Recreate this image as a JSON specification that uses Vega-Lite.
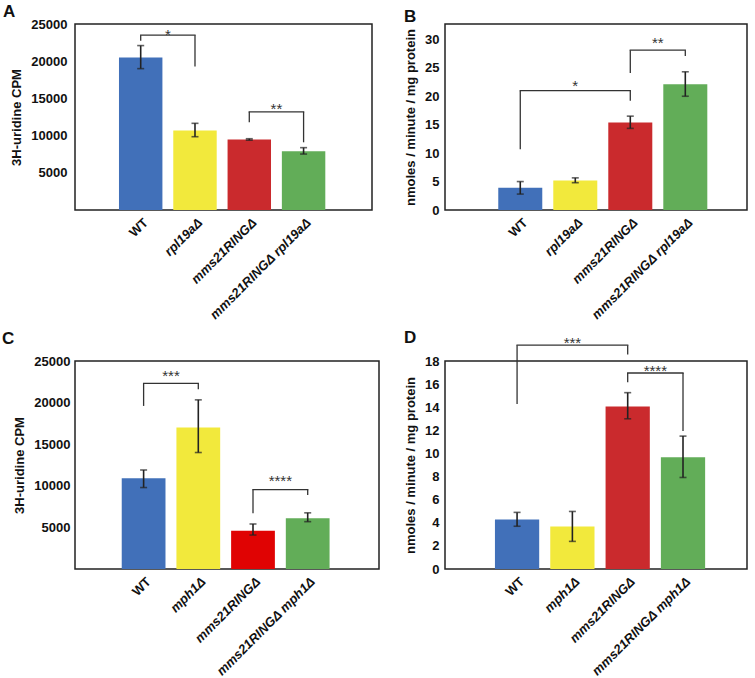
{
  "$schema": "https://vega.github.io/schema/vega-lite/v6.json",
  "padding": {"left": 1, "top": 2, "right": 0, "bottom": 0},
  "bounds": "flush",
  "columns": 2,
  "spacing": {"row": 151, "column": 66},
  "resolve": {"scale": {"color": "independent"}},
  "datasets": {
    "A": [
      {"g": "WT", "v": 20500, "lo": 19000, "hi": 22100},
      {"g": "rpl19aΔ", "v": 10700, "lo": 9850, "hi": 11650},
      {"g": "mms21RINGΔ", "v": 9480, "lo": 9380, "hi": 9580},
      {"g": "mms21RINGΔ rpl19aΔ", "v": 7900, "lo": 7520, "hi": 8380}
    ],
    "Abr": [
      {"a": "WT", "b": "rpl19aΔ", "top": 23500, "ya": 22750, "yb": 19300, "s": "*", "sy": 24050},
      {"a": "mms21RINGΔ", "b": "mms21RINGΔ rpl19aΔ", "top": 13200, "ya": 11800, "yb": 9100, "s": "**", "sy": 14100}
    ],
    "B": [
      {"g": "WT", "v": 3.9, "lo": 2.8, "hi": 5.0},
      {"g": "rpl19aΔ", "v": 5.2, "lo": 4.8, "hi": 5.65},
      {"g": "mms21RINGΔ", "v": 15.4, "lo": 14.35, "hi": 16.5},
      {"g": "mms21RINGΔ rpl19aΔ", "v": 22.1, "lo": 20.0, "hi": 24.3}
    ],
    "Bbr": [
      {"a": "WT", "b": "mms21RINGΔ", "m": "rpl19aΔ", "top": 20.97, "ya": 10.7, "yb": 19.2, "s": "*", "sy": 22.55},
      {"a": "mms21RINGΔ", "b": "mms21RINGΔ rpl19aΔ", "top": 28.1, "ya": 24.1, "yb": 27.07, "s": "**", "sy": 30.05}
    ],
    "C": [
      {"g": "WT", "v": 10920, "lo": 9790, "hi": 11900},
      {"g": "mph1Δ", "v": 17000, "lo": 14000, "hi": 20330},
      {"g": "mms21RINGΔ", "v": 4600, "lo": 4080, "hi": 5410},
      {"g": "mms21RINGΔ mph1Δ", "v": 6090, "lo": 5690, "hi": 6750}
    ],
    "Cbr": [
      {"a": "WT", "b": "mph1Δ", "top": 22300, "ya": 19600, "yb": 21600, "s": "***", "sy": 23700},
      {"a": "mms21RINGΔ", "b": "mms21RINGΔ mph1Δ", "top": 9550, "ya": 6700, "yb": 8900, "s": "****", "sy": 11000}
    ],
    "D": [
      {"g": "WT", "v": 4.28, "lo": 3.7, "hi": 4.9},
      {"g": "mph1Δ", "v": 3.67, "lo": 2.39, "hi": 4.98},
      {"g": "mms21RINGΔ", "v": 14.07, "lo": 13.0, "hi": 15.26},
      {"g": "mms21RINGΔ mph1Δ", "v": 9.67, "lo": 7.92, "hi": 11.5}
    ],
    "Dbr": [
      {"a": "WT", "b": "mms21RINGΔ", "m": "mph1Δ", "top": 19.37, "ya": 14.27, "yb": 18.56, "s": "***", "sy": 19.87},
      {"a": "mms21RINGΔ", "b": "mms21RINGΔ mph1Δ", "top": 16.96, "ya": 16.17, "yb": 11.94, "s": "****", "sy": 17.48}
    ]
  },
  "concat": [
    {
      "width": 297, "height": 186,
      "title": {"text": "A", "anchor": "start", "frame": "group", "fontSize": 17, "fontWeight": "bold", "dx": -72, "dy": 23, "offset": 7, "baseline": "alphabetic", "color": "#111"},
      "layer": [
        {"data": {"name": "A"}, "mark": {"type": "bar"},
         "encoding": {
           "x": {"field": "g", "type": "nominal", "sort": null,
                 "scale": {"domain": ["WT", "rpl19aΔ", "mms21RINGΔ", "mms21RINGΔ rpl19aΔ"], "paddingInner": 0.2, "paddingOuter": 0.835, "align": 0.485},
                 "axis": {"title": null, "labelAngle": -45, "labelFontSize": 13, "labelPadding": 6, "labelOffset": 1, "labelLimit": 300,
                          "labelFontStyle": {"condition": {"test": "datum.value == 'WT'", "value": "normal"}, "value": "italic"}}},
           "y": {"field": "v", "type": "quantitative", "scale": {"domain": [0, 25000], "nice": false},
                 "axis": {"title": "3H-uridine CPM", "values": [5000, 10000, 15000, 20000, 25000], "format": "d", "labelPadding": 8, "labelOverlap": false}},
           "color": {"field": "g", "type": "nominal", "legend": null,
                     "scale": {"domain": ["WT", "rpl19aΔ", "mms21RINGΔ", "mms21RINGΔ rpl19aΔ"], "range": ["#4170B9", "#F2E93C", "#CA2A2D", "#62AD58"]}}
         }},
        {"data": {"name": "A"}, "mark": {"type": "rule", "color": "#222", "strokeWidth": 1.6},
         "encoding": {"x": {"field": "g", "type": "nominal"}, "y": {"field": "lo", "type": "quantitative"}, "y2": {"field": "hi"}}},
        {"data": {"name": "A"}, "mark": {"type": "tick", "orient": "horizontal", "size": 7, "thickness": 1.6, "color": "#222"},
         "encoding": {"x": {"field": "g", "type": "nominal"}, "y": {"field": "lo", "type": "quantitative"}}},
        {"data": {"name": "A"}, "mark": {"type": "tick", "orient": "horizontal", "size": 7, "thickness": 1.6, "color": "#222"},
         "encoding": {"x": {"field": "g", "type": "nominal"}, "y": {"field": "hi", "type": "quantitative"}}},
        {"data": {"name": "Abr"}, "mark": {"type": "rule", "color": "#333", "strokeWidth": 1.3, "strokeCap": "square"},
         "encoding": {"x": {"field": "a", "type": "nominal"}, "x2": {"field": "b"}, "y": {"field": "top", "type": "quantitative"}}},
        {"data": {"name": "Abr"}, "mark": {"type": "rule", "color": "#333", "strokeWidth": 1.3},
         "encoding": {"x": {"field": "a", "type": "nominal"}, "y": {"field": "top", "type": "quantitative"}, "y2": {"field": "ya"}}},
        {"data": {"name": "Abr"}, "mark": {"type": "rule", "color": "#333", "strokeWidth": 1.3},
         "encoding": {"x": {"field": "b", "type": "nominal"}, "y": {"field": "top", "type": "quantitative"}, "y2": {"field": "yb"}}},
        {"data": {"name": "Abr"}, "mark": {"type": "text", "fontSize": 15, "color": "#333", "baseline": "middle", "dy": 4},
         "encoding": {"x": {"field": "a", "type": "nominal", "bandPosition": 1.125}, "y": {"field": "sy", "type": "quantitative"}, "text": {"field": "s"}}}
      ]
    },
    {
      "width": 302, "height": 186,
      "title": {"text": "B", "anchor": "start", "frame": "group", "fontSize": 17, "fontWeight": "bold", "dx": -41, "dy": 22, "offset": 7, "baseline": "alphabetic", "color": "#111"},
      "layer": [
        {"data": {"name": "B"}, "mark": {"type": "bar"},
         "encoding": {
           "x": {"field": "g", "type": "nominal", "sort": null,
                 "scale": {"domain": ["WT", "rpl19aΔ", "mms21RINGΔ", "mms21RINGΔ rpl19aΔ"], "paddingInner": 0.2, "paddingOuter": 0.845, "align": 0.573},
                 "axis": {"title": null, "labelAngle": -45, "labelFontSize": 13, "labelPadding": 6, "labelOffset": 1, "labelLimit": 300,
                          "labelFontStyle": {"condition": {"test": "datum.value == 'WT'", "value": "normal"}, "value": "italic"}}},
           "y": {"field": "v", "type": "quantitative", "scale": {"domain": [0, 32.7], "nice": false},
                 "axis": {"title": "nmoles / minute / mg protein", "values": [0, 5, 10, 15, 20, 25, 30], "format": "d", "labelOverlap": false}},
           "color": {"field": "g", "type": "nominal", "legend": null,
                     "scale": {"domain": ["WT", "rpl19aΔ", "mms21RINGΔ", "mms21RINGΔ rpl19aΔ"], "range": ["#4170B9", "#F2E93C", "#CA2A2D", "#62AD58"]}}
         }},
        {"data": {"name": "B"}, "mark": {"type": "rule", "color": "#222", "strokeWidth": 1.6},
         "encoding": {"x": {"field": "g", "type": "nominal"}, "y": {"field": "lo", "type": "quantitative"}, "y2": {"field": "hi"}}},
        {"data": {"name": "B"}, "mark": {"type": "tick", "orient": "horizontal", "size": 7, "thickness": 1.6, "color": "#222"},
         "encoding": {"x": {"field": "g", "type": "nominal"}, "y": {"field": "lo", "type": "quantitative"}}},
        {"data": {"name": "B"}, "mark": {"type": "tick", "orient": "horizontal", "size": 7, "thickness": 1.6, "color": "#222"},
         "encoding": {"x": {"field": "g", "type": "nominal"}, "y": {"field": "hi", "type": "quantitative"}}},
        {"data": {"name": "Bbr"}, "mark": {"type": "rule", "color": "#333", "strokeWidth": 1.3, "strokeCap": "square"},
         "encoding": {"x": {"field": "a", "type": "nominal"}, "x2": {"field": "b"}, "y": {"field": "top", "type": "quantitative"}}},
        {"data": {"name": "Bbr"}, "mark": {"type": "rule", "color": "#333", "strokeWidth": 1.3},
         "encoding": {"x": {"field": "a", "type": "nominal"}, "y": {"field": "top", "type": "quantitative"}, "y2": {"field": "ya"}}},
        {"data": {"name": "Bbr"}, "mark": {"type": "rule", "color": "#333", "strokeWidth": 1.3},
         "encoding": {"x": {"field": "b", "type": "nominal"}, "y": {"field": "top", "type": "quantitative"}, "y2": {"field": "yb"}}},
        {"data": {"name": "Bbr"}, "transform": [{"filter": "!datum.m"}], "mark": {"type": "text", "fontSize": 15, "color": "#333", "baseline": "middle", "dy": 4},
         "encoding": {"x": {"field": "a", "type": "nominal", "bandPosition": 1.125}, "y": {"field": "sy", "type": "quantitative"}, "text": {"field": "s"}}},
        {"data": {"name": "Bbr"}, "transform": [{"filter": "datum.m"}], "mark": {"type": "text", "fontSize": 15, "color": "#333", "baseline": "middle", "dy": 4},
         "encoding": {"x": {"field": "m", "type": "nominal"}, "y": {"field": "sy", "type": "quantitative"}, "text": {"field": "s"}}}
      ]
    },
    {
      "width": 304, "height": 208,
      "title": {"text": "C", "anchor": "start", "frame": "group", "fontSize": 17, "fontWeight": "bold", "dx": -73, "dy": 20, "offset": 14, "baseline": "alphabetic", "color": "#111"},
      "layer": [
        {"data": {"name": "C"}, "mark": {"type": "bar"},
         "encoding": {
           "x": {"field": "g", "type": "nominal", "sort": null,
                 "scale": {"domain": ["WT", "mph1Δ", "mms21RINGΔ", "mms21RINGΔ mph1Δ"], "paddingInner": 0.2, "paddingOuter": 0.879, "align": 0.486},
                 "axis": {"title": null, "labelAngle": -45, "labelFontSize": 13, "labelPadding": 6, "labelOffset": 1, "labelLimit": 300,
                          "labelFontStyle": {"condition": {"test": "datum.value == 'WT'", "value": "normal"}, "value": "italic"}}},
           "y": {"field": "v", "type": "quantitative", "scale": {"domain": [0, 25000], "nice": false},
                 "axis": {"title": "3H-uridine CPM", "values": [5000, 10000, 15000, 20000, 25000], "format": "d", "labelPadding": 5, "labelOverlap": false}},
           "color": {"field": "g", "type": "nominal", "legend": null,
                     "scale": {"domain": ["WT", "mph1Δ", "mms21RINGΔ", "mms21RINGΔ mph1Δ"], "range": ["#4170B9", "#F2E93C", "#E00303", "#62AD58"]}}
         }},
        {"data": {"name": "C"}, "mark": {"type": "rule", "color": "#222", "strokeWidth": 1.6},
         "encoding": {"x": {"field": "g", "type": "nominal"}, "y": {"field": "lo", "type": "quantitative"}, "y2": {"field": "hi"}}},
        {"data": {"name": "C"}, "mark": {"type": "tick", "orient": "horizontal", "size": 7, "thickness": 1.6, "color": "#222"},
         "encoding": {"x": {"field": "g", "type": "nominal"}, "y": {"field": "lo", "type": "quantitative"}}},
        {"data": {"name": "C"}, "mark": {"type": "tick", "orient": "horizontal", "size": 7, "thickness": 1.6, "color": "#222"},
         "encoding": {"x": {"field": "g", "type": "nominal"}, "y": {"field": "hi", "type": "quantitative"}}},
        {"data": {"name": "Cbr"}, "mark": {"type": "rule", "color": "#333", "strokeWidth": 1.3, "strokeCap": "square"},
         "encoding": {"x": {"field": "a", "type": "nominal"}, "x2": {"field": "b"}, "y": {"field": "top", "type": "quantitative"}}},
        {"data": {"name": "Cbr"}, "mark": {"type": "rule", "color": "#333", "strokeWidth": 1.3},
         "encoding": {"x": {"field": "a", "type": "nominal"}, "y": {"field": "top", "type": "quantitative"}, "y2": {"field": "ya"}}},
        {"data": {"name": "Cbr"}, "mark": {"type": "rule", "color": "#333", "strokeWidth": 1.3},
         "encoding": {"x": {"field": "b", "type": "nominal"}, "y": {"field": "top", "type": "quantitative"}, "y2": {"field": "yb"}}},
        {"data": {"name": "Cbr"}, "mark": {"type": "text", "fontSize": 15, "color": "#333", "baseline": "middle", "dy": 4},
         "encoding": {"x": {"field": "a", "type": "nominal", "bandPosition": 1.125}, "y": {"field": "sy", "type": "quantitative"}, "text": {"field": "s"}}}
      ]
    },
    {
      "width": 302, "height": 208,
      "title": {"text": "D", "anchor": "start", "frame": "group", "fontSize": 17, "fontWeight": "bold", "dx": -41, "offset": 15, "dy": 39, "baseline": "alphabetic", "color": "#111"},
      "layer": [
        {"data": {"name": "D"}, "mark": {"type": "bar"},
         "encoding": {
           "x": {"field": "g", "type": "nominal", "sort": null,
                 "scale": {"domain": ["WT", "mph1Δ", "mms21RINGΔ", "mms21RINGΔ mph1Δ"], "paddingInner": 0.2, "paddingOuter": 0.83, "align": 0.544},
                 "axis": {"title": null, "labelAngle": -45, "labelFontSize": 13, "labelPadding": 6, "labelOffset": 1, "labelLimit": 300,
                          "labelFontStyle": {"condition": {"test": "datum.value == 'WT'", "value": "normal"}, "value": "italic"}}},
           "y": {"field": "v", "type": "quantitative", "scale": {"domain": [0, 18], "nice": false},
                 "axis": {"title": "nmoles / minute / mg protein", "values": [0, 2, 4, 6, 8, 10, 12, 14, 16, 18], "format": "d", "labelOverlap": false}},
           "color": {"field": "g", "type": "nominal", "legend": null,
                     "scale": {"domain": ["WT", "mph1Δ", "mms21RINGΔ", "mms21RINGΔ mph1Δ"], "range": ["#4170B9", "#F2E93C", "#CA2A2D", "#62AD58"]}}
         }},
        {"data": {"name": "D"}, "mark": {"type": "rule", "color": "#222", "strokeWidth": 1.6},
         "encoding": {"x": {"field": "g", "type": "nominal"}, "y": {"field": "lo", "type": "quantitative"}, "y2": {"field": "hi"}}},
        {"data": {"name": "D"}, "mark": {"type": "tick", "orient": "horizontal", "size": 7, "thickness": 1.6, "color": "#222"},
         "encoding": {"x": {"field": "g", "type": "nominal"}, "y": {"field": "lo", "type": "quantitative"}}},
        {"data": {"name": "D"}, "mark": {"type": "tick", "orient": "horizontal", "size": 7, "thickness": 1.6, "color": "#222"},
         "encoding": {"x": {"field": "g", "type": "nominal"}, "y": {"field": "hi", "type": "quantitative"}}},
        {"data": {"name": "Dbr"}, "mark": {"type": "rule", "color": "#333", "strokeWidth": 1.3, "strokeCap": "square"},
         "encoding": {"x": {"field": "a", "type": "nominal"}, "x2": {"field": "b"}, "y": {"field": "top", "type": "quantitative"}}},
        {"data": {"name": "Dbr"}, "mark": {"type": "rule", "color": "#333", "strokeWidth": 1.3},
         "encoding": {"x": {"field": "a", "type": "nominal"}, "y": {"field": "top", "type": "quantitative"}, "y2": {"field": "ya"}}},
        {"data": {"name": "Dbr"}, "mark": {"type": "rule", "color": "#333", "strokeWidth": 1.3},
         "encoding": {"x": {"field": "b", "type": "nominal"}, "y": {"field": "top", "type": "quantitative"}, "y2": {"field": "yb"}}},
        {"data": {"name": "Dbr"}, "transform": [{"filter": "!datum.m"}], "mark": {"type": "text", "fontSize": 15, "color": "#333", "baseline": "middle", "dy": 4},
         "encoding": {"x": {"field": "a", "type": "nominal", "bandPosition": 1.125}, "y": {"field": "sy", "type": "quantitative"}, "text": {"field": "s"}}},
        {"data": {"name": "Dbr"}, "transform": [{"filter": "datum.m"}], "mark": {"type": "text", "fontSize": 15, "color": "#333", "baseline": "middle", "dy": 4},
         "encoding": {"x": {"field": "m", "type": "nominal"}, "y": {"field": "sy", "type": "quantitative"}, "text": {"field": "s"}}}
      ]
    }
  ],
  "config": {
    "font": "Liberation Sans",
    "view": {"stroke": "#222", "strokeWidth": 1.5},
    "axis": {"grid": false, "ticks": false, "domain": false, "labelFontWeight": "bold", "labelFontSize": 13, "labelColor": "#111", "labelPadding": 6, "labelOverlap": false,
             "titleFontWeight": "bold", "titleFontSize": 13, "titleColor": "#111", "titlePadding": 7},
    "axisY": {"labelOverlap": false, "tickCount": 20}
  }
}
